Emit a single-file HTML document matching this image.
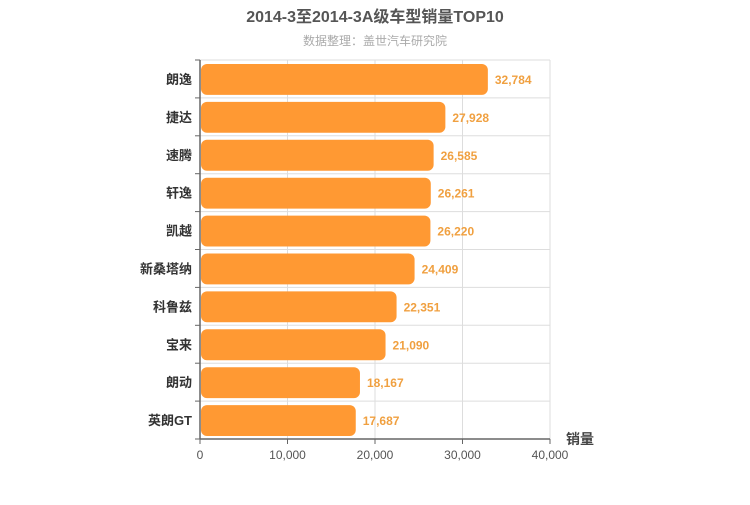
<!DOCTYPE html>
<html><head><meta charset="utf-8"><style>
body{margin:0;background:#fff;}
svg text{font-family:"Liberation Sans","Noto Sans CJK SC",sans-serif;}
</style></head><body>
<svg width="750" height="500" id="c">
<text x="375" y="22" text-anchor="middle" font-size="16" font-weight="bold" fill="#555">2014-3至2014-3A级车型销量TOP10</text>
<text x="375" y="45" text-anchor="middle" font-size="12" fill="#aaa">数据整理：盖世汽车研究院</text>
<g id="grid"></g><g id="bars"></g><g id="axes"></g>
<text x="580" y="444" text-anchor="middle" font-size="14" font-weight="bold" fill="#444">销量</text>
</svg>
<script>
const categories=["朗逸","捷达","速腾","轩逸","凯越","新桑塔纳","科鲁兹","宝来","朗动","英朗GT"];
const values=[32784,27928,26585,26261,26220,24409,22351,21090,18167,17687];
const xTicks=[0,10000,20000,30000,40000];
const NS="http://www.w3.org/2000/svg";
const L=200,R=550,T=60,B=439,MAX=40000;
const x=v=>L+(R-L)*v/MAX;
const band=(B-T)/categories.length;
const y=i=>T+band*i;
function mk(tag,attrs,parent,text){const e=document.createElementNS(NS,tag);for(const k in attrs)e.setAttribute(k,attrs[k]);if(text!==undefined)e.textContent=text;parent.appendChild(e);return e;}
const g=document.getElementById('grid'),bg=document.getElementById('bars'),ag=document.getElementById('axes');
const fmt=v=>v.toLocaleString('en-US');
xTicks.forEach(t=>{
  const l=mk('line',{x1:x(t),x2:x(t),y1:T,y2:B,stroke:'#ddd'},g);
  
  
  const tk=mk('line',{x1:x(t),x2:x(t),y1:B,y2:B+5,stroke:'#666'},ag);
  
  
  const tx=mk('text',{x:x(t),y:B+20,'text-anchor':'middle','font-size':12,fill:'#555'},ag,fmt(t));
  
  
});
for(let i=0;i<=categories.length;i++){
  const l=mk('line',{x1:L,x2:R,y1:y(i),y2:y(i),stroke:'#ddd'},g);
  
  
  const tk=mk('line',{x1:L-5,x2:L,y1:y(i),y2:y(i),stroke:'#666'},ag);
  
  
}
categories.forEach((c,i)=>{
  const w=x(values[i])-L;
  const r=mk('rect',{x:L+1,y:y(i)+4,width:w,height:band-7,rx:6,fill:'#ff9933'},bg);
  
  
  const vl=mk('text',{x:x(values[i])+8,y:y(i)+band/2+5,'font-size':12,'font-weight':'bold',fill:'#f0a040'},bg,fmt(values[i]));
  
  
  const cl=mk('text',{x:L-8,y:y(i)+band/2+5,'text-anchor':'end','font-size':13,'font-weight':'bold',fill:'#333'},ag,c);
  
  
});
const ya=mk('line',{x1:L,x2:L,y1:T,y2:B,stroke:'#666','stroke-width':1.5},ag);


const xa=mk('line',{x1:L,x2:R,y1:B,y2:B,stroke:'#666','stroke-width':1.5},ag);


</script>
</body></html>
